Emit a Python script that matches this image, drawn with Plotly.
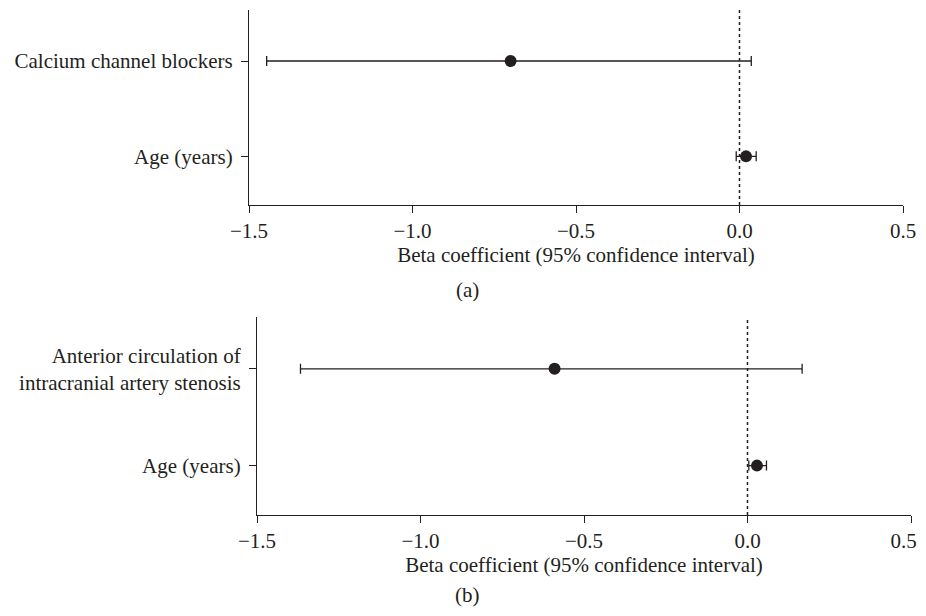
import plotly.graph_objects as go

# Panel (a)
labels_a = ["Age (years)", "Calcium channel blockers"]
beta_a = [0.020, -0.700]
lower_a = [-0.010, -1.446]
upper_a = [0.051, 0.036]

# Panel (b)
labels_b = ["Age (years)", "Anterior circulation of<br>intracranial artery stenosis"]
beta_b = [0.029, -0.590]
lower_b = [0.004, -1.367]
upper_b = [0.058, 0.167]

x_ticks = [-1.5, -1.0, -0.5, 0.0, 0.5]
x_ticktext = ["\u22121.5", "\u22121.0", "\u22120.5", "0.0", "0.5"]
x_title = "Beta coefficient (95% confidence interval)"

INK = "#231f20"
FONT = "Liberation Serif"
FS = 21

# page body has an 8px margin; figure is sized to fit the visible area
W, H = 918, 600
OFF = 8

def fx(px):
    return (px - OFF) / W

def fy(py):
    return (H - (py - OFF)) / H

fig = go.Figure()

def add_panel(beta, lo, hi, xa, ya):
    rows = list(range(1, len(beta) + 1))
    fig.add_trace(go.Scatter(
        x=beta, y=rows, mode="markers",
        marker=dict(size=12, color=INK),
        error_x=dict(type="data", symmetric=False,
                     array=[h - b for h, b in zip(hi, beta)],
                     arrayminus=[b - l for b, l in zip(beta, lo)],
                     color=INK, thickness=1.3, width=5),
        xaxis=xa, yaxis=ya, showlegend=False, hoverinfo="skip"))

add_panel(beta_a, lower_a, upper_a, "x", "y")
add_panel(beta_b, lower_b, upper_b, "x2", "y2")

common_x = dict(range=[-1.5, 0.5], tickvals=x_ticks,
                showline=True, linecolor=INK, linewidth=1.3, ticks="outside",
                ticklen=7, tickwidth=1.3, tickcolor=INK, showgrid=False,
                zeroline=False, automargin=False, ticklabeloverflow="allow",
                tickfont=dict(family=FONT, size=FS, color=INK),
                title=dict(text=x_title, font=dict(family=FONT, size=FS, color=INK), standoff=2))
common_y = dict(range=[0.49, 2.535], tickvals=[1, 2],
                showline=True, linecolor=INK, linewidth=1.3, ticks="outside",
                ticklen=7, tickwidth=1.3, tickcolor=INK, showgrid=False,
                zeroline=False, automargin=False, ticklabeloverflow="allow",
                tickfont=dict(family=FONT, size=FS, color=INK),
                ticklabelstandoff=4)

# last label of the lower axis nudged left (trailing space) so it stays inside the window
ticktext_b = x_ticktext[:-1] + [x_ticktext[-1] + "\u2002\u2009"]

fig.update_layout(
    width=W, height=H,
    margin=dict(l=0, r=0, t=0, b=0, autoexpand=False),
    paper_bgcolor="white", plot_bgcolor="white",
    font=dict(family=FONT, size=FS, color=INK),
    xaxis=dict(domain=[fx(249), fx(903)], anchor="y", ticktext=x_ticktext, **common_x),
    yaxis=dict(domain=[fy(205), fy(10)], anchor="x",
               ticktext=labels_a, **common_y),
    xaxis2=dict(domain=[fx(257), fx(911)], anchor="y2", ticktext=ticktext_b, **common_x),
    yaxis2=dict(domain=[fy(515), fy(317)], anchor="x2",
                ticktext=labels_b, **common_y),
)

for xr, yr in [("x", "y domain"), ("x2", "y2 domain")]:
    fig.add_shape(type="line", xref=xr, yref=yr, x0=0, x1=0, y0=0, y1=1,
                  line=dict(color=INK, width=1.5, dash="dot"))

fig.add_annotation(text="(a)", xref="paper", yref="paper", x=fx(467), y=fy(290),
                   xanchor="center", yanchor="middle",
                   showarrow=False, font=dict(family=FONT, size=FS, color=INK))
fig.add_annotation(text="(b)", xref="paper", yref="paper", x=fx(467), y=fy(595),
                   xanchor="center", yanchor="middle",
                   showarrow=False, font=dict(family=FONT, size=FS, color=INK))

fig.write_html("out.html")
